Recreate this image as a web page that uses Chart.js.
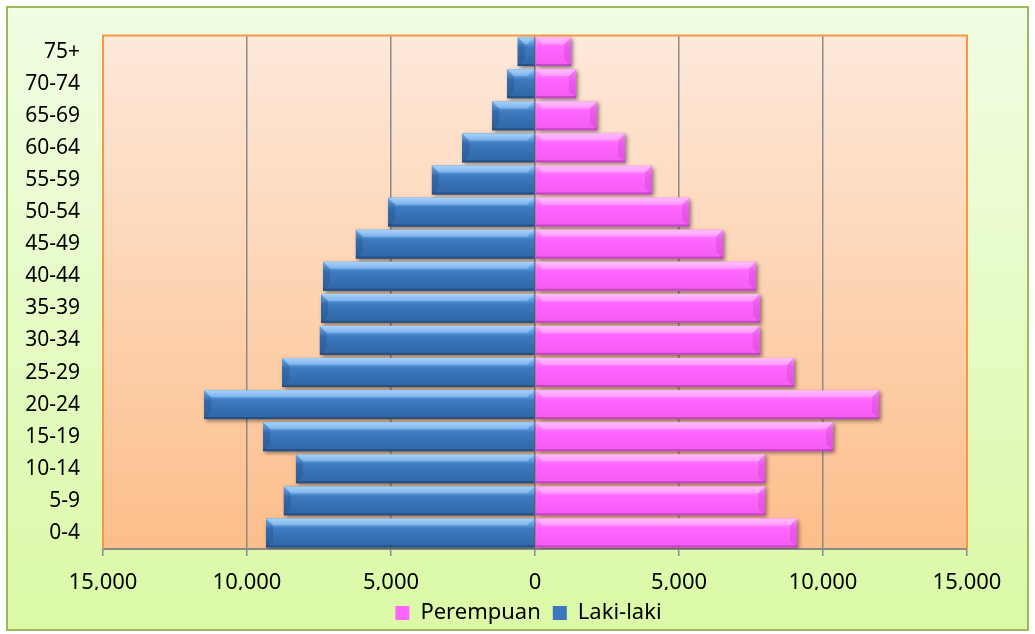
<!DOCTYPE html>
<html>
<head>
<meta charset="utf-8">
<script src="https://cdn.jsdelivr.net/npm/chart.js@4"></script>
<style>
	html, body { margin: 0; padding: 0; background: #ffffff; }
	#pyramid-chart { display: block; }
</style>
</head>
<body>
<canvas id="pyramid-chart" width="1035" height="634"></canvas>
<script>
Chart.defaults.font.family = "'Noto Sans', 'DejaVu Sans', sans-serif";
Chart.defaults.font.size = 21;
Chart.defaults.color = '#000000';

// kelompok umur, dari atas ke bawah
var ageGroups = ['75+', '70-74', '65-69', '60-64', '55-59', '50-54', '45-49', '40-44',
	'35-39', '30-34', '25-29', '20-24', '15-19', '10-14', '5-9', '0-4'];

var maleCnt = [600, 970, 1490, 2530, 3580, 5100, 6220, 7360,
	7430, 7470, 8780, 11490, 9440, 8300, 8720, 9340];

var femaleCnt = [1250, 1420, 2150, 3125, 4060, 5350, 6530, 7670,
	7810, 7800, 8990, 11940, 10350, 7990, 7990, 9100];

var axisTicks = [-15000, -10000, -5000, 0, 5000, 10000, 15000];

// laki-laki digambar ke kiri
var maleNeg = maleCnt.map(function(v) { return -v; });

var blueFace = '#3b78bd';
var pinkFace = '#ff66ff';

function addComma(v) {
	return String(Math.abs(v)).replace(/\B(?=(\d{3})+(?!\d))/g, ',');
}

// latar belakang chart + plot area
var backgroundPlugin = {
	id: 'background',
	beforeDraw: function(chart) {
		var ctx = chart.ctx;
		var a = chart.chartArea;
		ctx.save();
		var g = ctx.createLinearGradient(0, 0, 0, chart.height);
		g.addColorStop(0, '#f1fde4');
		g.addColorStop(1, '#dbf9a6');
		ctx.fillStyle = g;
		ctx.fillRect(7, 7, chart.width - 14, chart.height - 11);
		ctx.strokeStyle = '#9bbb59';
		ctx.lineWidth = 2;
		ctx.strokeRect(7, 7, chart.width - 14, chart.height - 11);

		var g2 = ctx.createLinearGradient(0, a.top, 0, a.bottom);
		g2.addColorStop(0, '#fee9da');
		g2.addColorStop(1, '#fcbe8a');
		ctx.fillStyle = g2;
		ctx.fillRect(a.left, a.top, a.right - a.left, a.bottom - a.top);
		ctx.restore();
	},
	beforeDatasetsDraw: function(chart) {
		var ctx = chart.ctx;
		var a = chart.chartArea;
		ctx.save();
		ctx.strokeStyle = '#f79646';
		ctx.lineWidth = 2;
		ctx.beginPath();
		ctx.moveTo(a.left, a.bottom);
		ctx.lineTo(a.left, a.top);
		ctx.lineTo(a.right, a.top);
		ctx.lineTo(a.right, a.bottom);
		ctx.stroke();
		ctx.restore();

		// bayangan batang
		ctx.save();
		ctx.shadowColor = 'rgba(0, 0, 0, 0.45)';
		ctx.shadowBlur = 4;
		ctx.shadowOffsetX = 2;
		ctx.shadowOffsetY = 2;
	},
	afterDatasetsDraw: function(chart) {
		var ctx = chart.ctx;
		ctx.restore();

		// efek bevel pada tiap batang
		chart.data.datasets.forEach(function(ds, di) {
			var meta = chart.getDatasetMeta(di);
			var isMale = di === 1;
			meta.data.forEach(function(bar) {
				var p = bar.getProps(['x', 'y', 'base', 'height'], true);
				var l = Math.min(p.x, p.base);
				var r = Math.max(p.x, p.base);
				var t = p.y - p.height / 2;
				var b = p.y + p.height / 2;
				var bev = Math.min(7, (r - l) / 2);
				ctx.save();
				var g = ctx.createLinearGradient(0, t, 0, b);
				if (isMale) {
					g.addColorStop(0, '#86c6ff');
					g.addColorStop(0.22, '#5a9be0');
					g.addColorStop(0.35, '#3d7ac0');
					g.addColorStop(1, '#2f65a3');
				} else {
					g.addColorStop(0, '#ffa8ff');
					g.addColorStop(0.22, '#ff7aff');
					g.addColorStop(0.35, '#ff66ff');
					g.addColorStop(1, '#f45cf4');
				}
				ctx.fillStyle = g;
				ctx.fillRect(l, t, r - l, b - t);

				// sisi ujung
				ctx.fillStyle = isMale ? 'rgba(20, 50, 100, 0.2)' : 'rgba(120, 20, 120, 0.15)';
				ctx.beginPath();
				ctx.moveTo(isMale ? l : r, t);
				ctx.lineTo(isMale ? l + bev : r - bev, t + bev);
				ctx.lineTo(isMale ? l + bev : r - bev, b - bev);
				ctx.lineTo(isMale ? l : r, b);
				ctx.closePath();
				ctx.fill();

				// sisi atas terang
				ctx.fillStyle = 'rgba(255, 255, 255, 0.25)';
				ctx.beginPath();
				ctx.moveTo(l, t);
				ctx.lineTo(r, t);
				ctx.lineTo(r - bev, t + bev);
				ctx.lineTo(l + bev, t + bev);
				ctx.closePath();
				ctx.fill();

				// sisi bawah gelap
				ctx.fillStyle = isMale ? 'rgba(15, 40, 80, 0.35)' : 'rgba(110, 20, 110, 0.35)';
				ctx.fillRect(l, b - 2, r - l, 2);
				ctx.restore();
			});
		});
	}
};

var ctx = document.getElementById('pyramid-chart').getContext('2d');
var pyramidChart = new Chart(ctx, {
	type: 'bar',
	data: {
		labels: ageGroups,
		datasets: [
			{
				label: 'Perempuan',
				data: femaleCnt,
				backgroundColor: pinkFace,
				borderWidth: 0,
				barPercentage: 0.9,
				categoryPercentage: 1
			},
			{
				label: 'Laki-laki',
				data: maleNeg,
				backgroundColor: blueFace,
				borderWidth: 0,
				barPercentage: 0.9,
				categoryPercentage: 1
			}
		]
	},
	options: {
		indexAxis: 'y',
		responsive: false,
		animation: false,
		layout: {
			padding: { top: 34, right: 0, left: 22, bottom: 0 }
		},
		plugins: {
			legend: {
				position: 'bottom',
				labels: {
					boxWidth: 14,
					boxHeight: 14,
					padding: 12,
					font: { size: 22 }
				}
			},
			tooltip: { enabled: false }
		},
		scales: {
			x: {
				stacked: true,
				min: -15000,
				max: 15000,
				afterBuildTicks: function(scale) {
					scale.ticks = axisTicks.map(function(v) { return { value: v }; });
				},
				ticks: {
					padding: 14,
					maxRotation: 0,
					font: { size: 22 },
					callback: function(v) {
						return addComma(v);
					}
				},
				grid: {
					color: function(c) {
						if (c.tick && Math.abs(c.tick.value) === 15000) return 'rgba(0,0,0,0)';
						return '#8a8a8a';
					},
					lineWidth: 1.5,
					tickColor: '#8a8a8a',
					tickLength: 7
				},
				border: { color: '#8a8a8a', width: 2 },
				afterFit: function(scale) {
					scale.height = 41;
				}
			},
			y: {
				stacked: true,
				grid: { display: false, drawTicks: false },
				border: { display: false },
				ticks: { padding: 23 },
				afterFit: function(scale) {
					scale.width = 81;
				}
			},
			// ruang kosong di kanan plot
			yRight: {
				axis: 'y',
				type: 'linear',
				position: 'right',
				grid: { display: false, drawTicks: false },
				border: { display: false },
				ticks: { display: false },
				afterFit: function(scale) {
					scale.width = 68;
				}
			}
		}
	},
	plugins: [backgroundPlugin]
});
</script>
</body>
</html>
